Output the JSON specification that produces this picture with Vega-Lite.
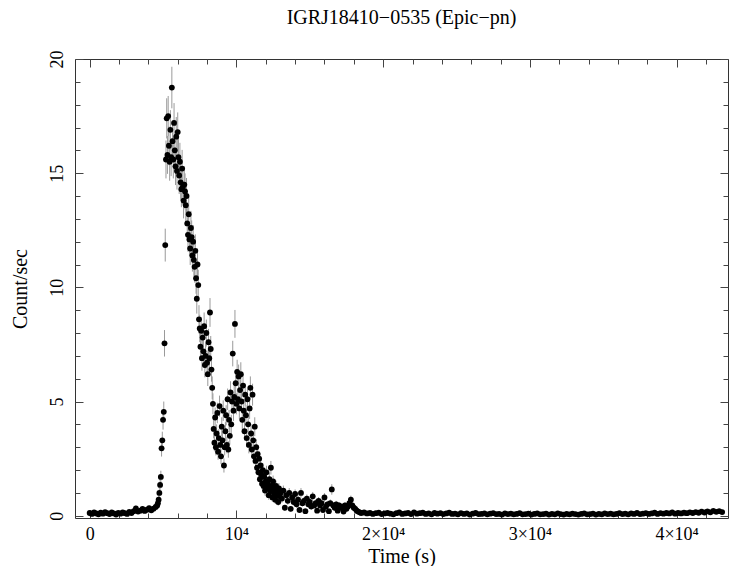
{
"$schema": "https://vega.github.io/schema/vega-lite/v6.json",
"width": 653, "height": 459,
"autosize": "none",
"padding": {"left": 75, "top": 59, "right": 2, "bottom": 48},
"background": "white",
"title": {"text": "IGRJ18410−0535 (Epic−pn)", "font": "Liberation Serif", "fontSize": 20, "fontWeight": "normal", "color": "black", "offset": 22, "frame": "group", "anchor": "middle"},
"config": {
  "view": {"stroke": "#333", "strokeWidth": 1},
  "axis": {"labelFont": "Liberation Serif", "labelFontSize": 18, "labelColor": "black", "titleFont": "Liberation Serif", "titleFontSize": 20, "titleFontWeight": "normal", "titleColor": "black", "tickColor": "#444", "grid": false, "domain": false, "labelFlush": false, "labelOverlap": false}
},
"data": {"values": [
{"t":0,"r":0.12,"e":0.07},{"t":150,"r":0.08,"e":0.06},{"t":300,"r":0.15,"e":0.07},{"t":450,"r":0.10,"e":0.07},{"t":600,"r":0.06,"e":0.05},{"t":750,"r":0.13,"e":0.07},{"t":900,"r":0.09,"e":0.06},{"t":1050,"r":0.16,"e":0.08},{"t":1200,"r":0.11,"e":0.07},{"t":1350,"r":0.07,"e":0.05},{"t":1500,"r":0.14,"e":0.07},{"t":1650,"r":0.10,"e":0.07},{"t":1800,"r":0.05,"e":0.05},{"t":1950,"r":0.12,"e":0.07},{"t":2100,"r":0.09,"e":0.06},{"t":2250,"r":0.15,"e":0.07},{"t":2400,"r":0.11,"e":0.07},{"t":2550,"r":0.08,"e":0.06},{"t":2700,"r":0.17,"e":0.08},{"t":2850,"r":0.12,"e":0.07},{"t":3000,"r":0.20,"e":0.09},{"t":3150,"r":0.32,"e":0.12},{"t":3300,"r":0.18,"e":0.09},{"t":3450,"r":0.22,"e":0.10},{"t":3600,"r":0.30,"e":0.11},{"t":3750,"r":0.21,"e":0.09},{"t":3900,"r":0.26,"e":0.10},{"t":4050,"r":0.33,"e":0.12},{"t":4200,"r":0.24,"e":0.10},{"t":4350,"r":0.31,"e":0.12},{"t":4500,"r":0.38,"e":0.13},
{"t":4600,"r":0.45,"e":0.14},{"t":4650,"r":0.55,"e":0.16},{"t":4700,"r":0.70,"e":0.18},{"t":4750,"r":1.00,"e":0.21},{"t":4800,"r":1.35,"e":0.24},{"t":4850,"r":1.70,"e":0.27},{"t":4900,"r":2.95,"e":0.36},{"t":4950,"r":3.30,"e":0.38},{"t":5000,"r":4.20,"e":0.43},{"t":5050,"r":4.55,"e":0.45},
{"t":5100,"r":7.55,"e":0.58},{"t":5150,"r":11.85,"e":0.72},{"t":5200,"r":15.60,"e":0.83},{"t":5250,"r":17.40,"e":0.88},{"t":5300,"r":15.80,"e":0.83},{"t":5350,"r":17.50,"e":0.88},{"t":5400,"r":16.20,"e":0.85},{"t":5450,"r":15.50,"e":0.83},{"t":5500,"r":16.90,"e":0.86},{"t":5550,"r":15.70,"e":0.83},
{"t":5600,"r":18.75,"e":0.91},{"t":5650,"r":16.40,"e":0.85},{"t":5700,"r":15.60,"e":0.83},{"t":5750,"r":17.20,"e":0.87},{"t":5800,"r":16.00,"e":0.84},{"t":5850,"r":15.30,"e":0.82},{"t":5900,"r":16.60,"e":0.86},{"t":5950,"r":15.10,"e":0.82},{"t":6000,"r":16.80,"e":0.86},{"t":6050,"r":15.70,"e":0.83},
{"t":6100,"r":14.90,"e":0.81},{"t":6150,"r":15.50,"e":0.83},{"t":6200,"r":14.60,"e":0.80},{"t":6250,"r":14.30,"e":0.79},{"t":6300,"r":15.20,"e":0.82},{"t":6350,"r":14.40,"e":0.80},{"t":6400,"r":13.80,"e":0.78},{"t":6450,"r":14.50,"e":0.80},{"t":6500,"r":14.20,"e":0.79},{"t":6550,"r":13.60,"e":0.77},
{"t":6600,"r":14.00,"e":0.79},{"t":6650,"r":12.80,"e":0.75},{"t":6700,"r":12.30,"e":0.74},{"t":6750,"r":13.20,"e":0.76},{"t":6800,"r":12.10,"e":0.73},{"t":6850,"r":11.70,"e":0.72},{"t":6900,"r":12.60,"e":0.75},{"t":6950,"r":12.20,"e":0.73},{"t":7000,"r":11.40,"e":0.71},{"t":7050,"r":12.00,"e":0.73},
{"t":7100,"r":11.20,"e":0.70},{"t":7150,"r":10.90,"e":0.69},{"t":7200,"r":11.60,"e":0.72},{"t":7250,"r":10.40,"e":0.68},{"t":7300,"r":9.50,"e":0.65},{"t":7350,"r":11.00,"e":0.70},{"t":7400,"r":10.10,"e":0.67},{"t":7450,"r":8.60,"e":0.62},{"t":7500,"r":8.20,"e":0.60},{"t":7550,"r":7.40,"e":0.57},
{"t":7600,"r":8.10,"e":0.60},{"t":7650,"r":6.90,"e":0.55},{"t":7700,"r":7.80,"e":0.59},{"t":7750,"r":7.20,"e":0.56},{"t":7800,"r":8.30,"e":0.60},{"t":7850,"r":6.60,"e":0.54},{"t":7900,"r":7.00,"e":0.56},{"t":7950,"r":8.00,"e":0.59},{"t":8000,"r":6.70,"e":0.54},{"t":8050,"r":6.20,"e":0.52},
{"t":8100,"r":7.60,"e":0.58},{"t":8150,"r":6.90,"e":0.55},{"t":8200,"r":8.90,"e":0.63},{"t":8250,"r":7.30,"e":0.57},{"t":8300,"r":6.40,"e":0.53},{"t":8350,"r":5.60,"e":0.50},{"t":8400,"r":4.90,"e":0.46},{"t":8450,"r":3.80,"e":0.41},{"t":8500,"r":3.20,"e":0.38},{"t":8550,"r":4.30,"e":0.44},
{"t":8600,"r":3.00,"e":0.36},{"t":8650,"r":3.60,"e":0.40},{"t":8700,"r":4.50,"e":0.45},{"t":8750,"r":2.80,"e":0.35},{"t":8800,"r":3.40,"e":0.39},{"t":8850,"r":4.80,"e":0.46},{"t":8900,"r":3.10,"e":0.37},{"t":8950,"r":2.60,"e":0.34},{"t":9000,"r":3.90,"e":0.41},{"t":9050,"r":3.30,"e":0.38},
{"t":9100,"r":4.60,"e":0.45},{"t":9150,"r":2.20,"e":0.31},{"t":9200,"r":3.00,"e":0.36},{"t":9250,"r":3.70,"e":0.40},{"t":9300,"r":4.40,"e":0.44},{"t":9350,"r":3.10,"e":0.37},{"t":9400,"r":5.10,"e":0.47},{"t":9450,"r":2.90,"e":0.36},{"t":9500,"r":4.20,"e":0.43},{"t":9550,"r":3.50,"e":0.39},
{"t":9600,"r":5.40,"e":0.49},{"t":9650,"r":4.00,"e":0.42},{"t":9700,"r":5.00,"e":0.47},{"t":9750,"r":7.10,"e":0.56},{"t":9800,"r":4.60,"e":0.45},{"t":9850,"r":5.20,"e":0.48},{"t":9900,"r":8.40,"e":0.61},{"t":9950,"r":5.80,"e":0.51},{"t":10000,"r":4.90,"e":0.46},{"t":10050,"r":6.30,"e":0.53},
{"t":10100,"r":5.10,"e":0.47},{"t":10150,"r":6.10,"e":0.52},{"t":10200,"r":4.70,"e":0.46},{"t":10250,"r":5.50,"e":0.49},{"t":10300,"r":6.20,"e":0.52},{"t":10350,"r":5.00,"e":0.47},{"t":10400,"r":4.20,"e":0.43},{"t":10450,"r":5.70,"e":0.50},{"t":10500,"r":4.60,"e":0.45},{"t":10550,"r":3.70,"e":0.40},
{"t":10600,"r":5.30,"e":0.48},{"t":10650,"r":4.40,"e":0.44},{"t":10700,"r":3.40,"e":0.39},{"t":10750,"r":5.10,"e":0.47},{"t":10800,"r":4.00,"e":0.42},{"t":10850,"r":3.10,"e":0.37},{"t":10900,"r":4.70,"e":0.46},{"t":10950,"r":5.60,"e":0.50},{"t":11000,"r":3.60,"e":0.40},{"t":11050,"r":2.90,"e":0.36},
{"t":11100,"r":5.30,"e":0.48},{"t":11150,"r":3.30,"e":0.38},{"t":11200,"r":2.60,"e":0.34},{"t":11250,"r":3.90,"e":0.41},{"t":11300,"r":2.40,"e":0.33},{"t":11350,"r":3.00,"e":0.36},{"t":11400,"r":2.10,"e":0.30},{"t":11450,"r":2.70,"e":0.35},{"t":11500,"r":1.90,"e":0.29},{"t":11550,"r":2.50,"e":0.33},
{"t":11600,"r":1.60,"e":0.27},{"t":11650,"r":2.20,"e":0.31},{"t":11700,"r":1.80,"e":0.28},{"t":11750,"r":1.40,"e":0.25},{"t":11800,"r":2.00,"e":0.30},{"t":11850,"r":1.30,"e":0.24},{"t":11900,"r":1.70,"e":0.27},{"t":11950,"r":1.10,"e":0.22},{"t":12000,"r":1.50,"e":0.26},{"t":12050,"r":1.90,"e":0.29},
{"t":12100,"r":1.20,"e":0.23},{"t":12150,"r":1.40,"e":0.25},{"t":12200,"r":0.90,"e":0.20},{"t":12250,"r":1.60,"e":0.27},{"t":12300,"r":1.10,"e":0.22},{"t":12350,"r":2.10,"e":0.30},{"t":12400,"r":1.30,"e":0.24},{"t":12450,"r":0.80,"e":0.19},{"t":12500,"r":1.50,"e":0.26},{"t":12550,"r":1.00,"e":0.21},
{"t":12600,"r":1.20,"e":0.23},{"t":12650,"r":0.70,"e":0.18},{"t":12700,"r":1.30,"e":0.24},{"t":12750,"r":0.90,"e":0.20},{"t":12800,"r":1.10,"e":0.22},{"t":12850,"r":0.60,"e":0.16},{"t":12900,"r":1.20,"e":0.23},{"t":12950,"r":0.85,"e":0.19},{"t":13000,"r":1.00,"e":0.21},
{"t":13100,"r":0.75,"e":0.18},{"t":13200,"r":1.10,"e":0.22},{"t":13300,"r":0.35,"e":0.12},{"t":13400,"r":0.90,"e":0.20},{"t":13500,"r":0.65,"e":0.17},{"t":13600,"r":1.00,"e":0.21},{"t":13700,"r":0.30,"e":0.12},{"t":13800,"r":0.80,"e":0.19},{"t":13900,"r":0.60,"e":0.16},{"t":14000,"r":0.95,"e":0.20},
{"t":14100,"r":0.50,"e":0.15},{"t":14200,"r":0.70,"e":0.18},{"t":14300,"r":0.25,"e":0.10},{"t":14400,"r":1.00,"e":0.21},{"t":14500,"r":0.55,"e":0.16},{"t":14600,"r":0.65,"e":0.17},{"t":14700,"r":0.20,"e":0.09},{"t":14800,"r":0.75,"e":0.18},{"t":14900,"r":0.50,"e":0.15},{"t":15000,"r":0.60,"e":0.16},
{"t":15100,"r":0.40,"e":0.13},{"t":15200,"r":0.85,"e":0.19},{"t":15300,"r":0.45,"e":0.14},{"t":15400,"r":0.55,"e":0.16},{"t":15500,"r":0.22,"e":0.10},{"t":15600,"r":0.65,"e":0.17},{"t":15700,"r":0.45,"e":0.14},{"t":15800,"r":0.55,"e":0.16},{"t":15900,"r":0.25,"e":0.10},{"t":16000,"r":0.80,"e":0.19},
{"t":16100,"r":0.40,"e":0.13},{"t":16200,"r":0.50,"e":0.15},{"t":16300,"r":0.20,"e":0.09},{"t":16400,"r":0.55,"e":0.16},{"t":16500,"r":1.15,"e":0.23},{"t":16600,"r":0.45,"e":0.14},{"t":16700,"r":0.35,"e":0.12},{"t":16800,"r":0.50,"e":0.15},{"t":16900,"r":0.22,"e":0.10},{"t":17000,"r":0.45,"e":0.14},
{"t":17100,"r":0.35,"e":0.12},{"t":17200,"r":0.40,"e":0.13},{"t":17300,"r":0.18,"e":0.09},{"t":17400,"r":0.45,"e":0.14},{"t":17500,"r":0.30,"e":0.12},{"t":17600,"r":0.40,"e":0.13},{"t":17700,"r":0.55,"e":0.16},{"t":17800,"r":0.70,"e":0.18},{"t":17900,"r":0.45,"e":0.14},{"t":18000,"r":0.35,"e":0.12},
{"t":18100,"r":0.30,"e":0.12},{"t":18200,"r":0.22,"e":0.10},{"t":18300,"r":0.18,"e":0.09},{"t":18400,"r":0.15,"e":0.08},{"t":18500,"r":0.12,"e":0.07},
{"t":18700,"r":0.14,"e":0.07},{"t":18900,"r":0.10,"e":0.07},{"t":19100,"r":0.12,"e":0.07},{"t":19300,"r":0.08,"e":0.05},{"t":19500,"r":0.11,"e":0.07},{"t":19700,"r":0.13,"e":0.07},{"t":19900,"r":0.07,"e":0.05},{"t":20100,"r":0.10,"e":0.07},{"t":20300,"r":0.12,"e":0.07},{"t":20500,"r":0.09,"e":0.05},
{"t":20700,"r":0.06,"e":0.05},{"t":20900,"r":0.11,"e":0.07},{"t":21100,"r":0.14,"e":0.07},{"t":21300,"r":0.08,"e":0.05},{"t":21500,"r":0.10,"e":0.07},{"t":21700,"r":0.12,"e":0.07},{"t":21900,"r":0.07,"e":0.05},{"t":22100,"r":0.15,"e":0.07},{"t":22300,"r":0.09,"e":0.05},{"t":22500,"r":0.11,"e":0.07},
{"t":22700,"r":0.13,"e":0.07},{"t":22900,"r":0.08,"e":0.05},{"t":23100,"r":0.10,"e":0.07},{"t":23300,"r":0.06,"e":0.05},{"t":23500,"r":0.12,"e":0.07},{"t":23700,"r":0.09,"e":0.05},{"t":23900,"r":0.11,"e":0.07},{"t":24100,"r":0.07,"e":0.05},{"t":24300,"r":0.10,"e":0.07},{"t":24500,"r":0.13,"e":0.07},
{"t":24700,"r":0.08,"e":0.05},{"t":24900,"r":0.09,"e":0.05},{"t":25100,"r":0.06,"e":0.05},{"t":25300,"r":0.11,"e":0.07},{"t":25500,"r":0.08,"e":0.05},{"t":25700,"r":0.10,"e":0.07},{"t":25900,"r":0.05,"e":0.05},{"t":26100,"r":0.09,"e":0.05},{"t":26300,"r":0.12,"e":0.07},{"t":26500,"r":0.07,"e":0.05},
{"t":26700,"r":0.08,"e":0.05},{"t":26900,"r":0.10,"e":0.07},{"t":27100,"r":0.06,"e":0.05},{"t":27300,"r":0.09,"e":0.05},{"t":27500,"r":0.11,"e":0.07},{"t":27700,"r":0.07,"e":0.05},{"t":27900,"r":0.08,"e":0.05},{"t":28100,"r":0.05,"e":0.05},{"t":28300,"r":0.10,"e":0.07},{"t":28500,"r":0.07,"e":0.05},
{"t":28700,"r":0.09,"e":0.05},{"t":28900,"r":0.06,"e":0.05},{"t":29100,"r":0.08,"e":0.05},{"t":29300,"r":0.11,"e":0.07},{"t":29500,"r":0.06,"e":0.05},{"t":29700,"r":0.07,"e":0.05},{"t":29900,"r":0.09,"e":0.05},{"t":30100,"r":0.05,"e":0.05},{"t":30300,"r":0.08,"e":0.05},{"t":30500,"r":0.10,"e":0.07},
{"t":30700,"r":0.06,"e":0.05},{"t":30900,"r":0.07,"e":0.05},{"t":31100,"r":0.09,"e":0.05},{"t":31300,"r":0.05,"e":0.05},{"t":31500,"r":0.08,"e":0.05},{"t":31700,"r":0.06,"e":0.05},{"t":31900,"r":0.10,"e":0.07},{"t":32100,"r":0.07,"e":0.05},{"t":32300,"r":0.05,"e":0.05},{"t":32500,"r":0.08,"e":0.05},
{"t":32700,"r":0.06,"e":0.05},{"t":32900,"r":0.09,"e":0.05},{"t":33100,"r":0.07,"e":0.05},{"t":33300,"r":0.05,"e":0.05},{"t":33500,"r":0.08,"e":0.05},{"t":33700,"r":0.10,"e":0.07},{"t":33900,"r":0.06,"e":0.05},{"t":34100,"r":0.07,"e":0.05},{"t":34300,"r":0.09,"e":0.05},{"t":34500,"r":0.05,"e":0.05},
{"t":34700,"r":0.08,"e":0.05},{"t":34900,"r":0.06,"e":0.05},{"t":35100,"r":0.10,"e":0.07},{"t":35300,"r":0.07,"e":0.05},{"t":35500,"r":0.09,"e":0.05},{"t":35700,"r":0.06,"e":0.05},{"t":35900,"r":0.08,"e":0.05},{"t":36100,"r":0.11,"e":0.07},{"t":36300,"r":0.07,"e":0.05},{"t":36500,"r":0.09,"e":0.05},
{"t":36700,"r":0.06,"e":0.05},{"t":36900,"r":0.10,"e":0.07},{"t":37100,"r":0.08,"e":0.05},{"t":37300,"r":0.12,"e":0.07},{"t":37500,"r":0.07,"e":0.05},{"t":37700,"r":0.09,"e":0.05},{"t":37900,"r":0.11,"e":0.07},{"t":38100,"r":0.08,"e":0.05},{"t":38300,"r":0.10,"e":0.07},{"t":38500,"r":0.13,"e":0.07},
{"t":38700,"r":0.08,"e":0.05},{"t":38900,"r":0.11,"e":0.07},{"t":39100,"r":0.09,"e":0.05},{"t":39300,"r":0.12,"e":0.07},{"t":39500,"r":0.10,"e":0.07},{"t":39700,"r":0.14,"e":0.07},{"t":39900,"r":0.09,"e":0.05},{"t":40100,"r":0.12,"e":0.07},{"t":40300,"r":0.10,"e":0.07},{"t":40500,"r":0.13,"e":0.07},
{"t":40700,"r":0.11,"e":0.07},{"t":40900,"r":0.15,"e":0.07},{"t":41100,"r":0.12,"e":0.07},{"t":41300,"r":0.16,"e":0.08},{"t":41500,"r":0.13,"e":0.07},{"t":41700,"r":0.18,"e":0.09},{"t":41900,"r":0.14,"e":0.07},{"t":42100,"r":0.19,"e":0.09},{"t":42300,"r":0.15,"e":0.07},{"t":42500,"r":0.21,"e":0.09},
{"t":42700,"r":0.17,"e":0.08},{"t":42900,"r":0.20,"e":0.09},{"t":43100,"r":0.16,"e":0.08}
]},
"resolve": {"axis": {"x": "independent", "y": "independent"}},
"layer": [
  {
    "mark": {"type": "errorbar", "color": "#9a9a9a", "thickness": 1},
    "encoding": {
      "x": {"field": "t", "type": "quantitative", "scale": {"domain": [-1000, 43500], "nice": false, "zero": false},
        "axis": {"orient": "bottom", "values": [0, 10000, 20000, 30000, 40000], "tickSize": -8, "labelPadding": 15, "labelExpr": "datum.value == 0 ? '0' : datum.value == 10000 ? '10⁴' : (datum.value / 10000) + '×10⁴'", "title": "Time (s)", "titlePadding": 3}},
      "y": {"field": "r", "type": "quantitative", "scale": {"domain": [-0.1, 20], "nice": false, "zero": false},
        "axis": {"orient": "left", "values": [0, 5, 10, 15, 20], "tickSize": -8, "labelAngle": -90, "labelAlign": "center", "labelBaseline": "bottom", "labelPadding": 17, "title": "Count/sec", "titlePadding": 18}},
      "yError": {"field": "e"}
    }
  },
  {
    "mark": {"type": "circle", "size": 34, "color": "black", "opacity": 1},
    "encoding": {
      "x": {"field": "t", "type": "quantitative",
        "axis": {"orient": "bottom", "values": [2000, 4000, 6000, 8000, 12000, 14000, 16000, 18000, 22000, 24000, 26000, 28000, 32000, 34000, 36000, 38000, 42000], "tickSize": -5, "labels": false, "title": null}},
      "y": {"field": "r", "type": "quantitative",
        "axis": {"orient": "left", "values": [1, 2, 3, 4, 6, 7, 8, 9, 11, 12, 13, 14, 16, 17, 18, 19], "tickSize": -5, "labels": false, "title": null}}
    }
  },
  {
    "mark": {"type": "circle", "size": 1, "opacity": 0},
    "encoding": {
      "x": {"field": "t", "type": "quantitative",
        "axis": {"orient": "top", "values": [0, 10000, 20000, 30000, 40000], "tickSize": -8, "labels": false, "title": null}},
      "y": {"field": "r", "type": "quantitative",
        "axis": {"orient": "right", "values": [0, 5, 10, 15, 20], "tickSize": -8, "labels": false, "title": null}}
    }
  },
  {
    "mark": {"type": "circle", "size": 1, "opacity": 0},
    "encoding": {
      "x": {"field": "t", "type": "quantitative",
        "axis": {"orient": "top", "values": [2000, 4000, 6000, 8000, 12000, 14000, 16000, 18000, 22000, 24000, 26000, 28000, 32000, 34000, 36000, 38000, 42000], "tickSize": -5, "labels": false, "title": null}},
      "y": {"field": "r", "type": "quantitative",
        "axis": {"orient": "right", "values": [1, 2, 3, 4, 6, 7, 8, 9, 11, 12, 13, 14, 16, 17, 18, 19], "tickSize": -5, "labels": false, "title": null}}
    }
  }
]
}
